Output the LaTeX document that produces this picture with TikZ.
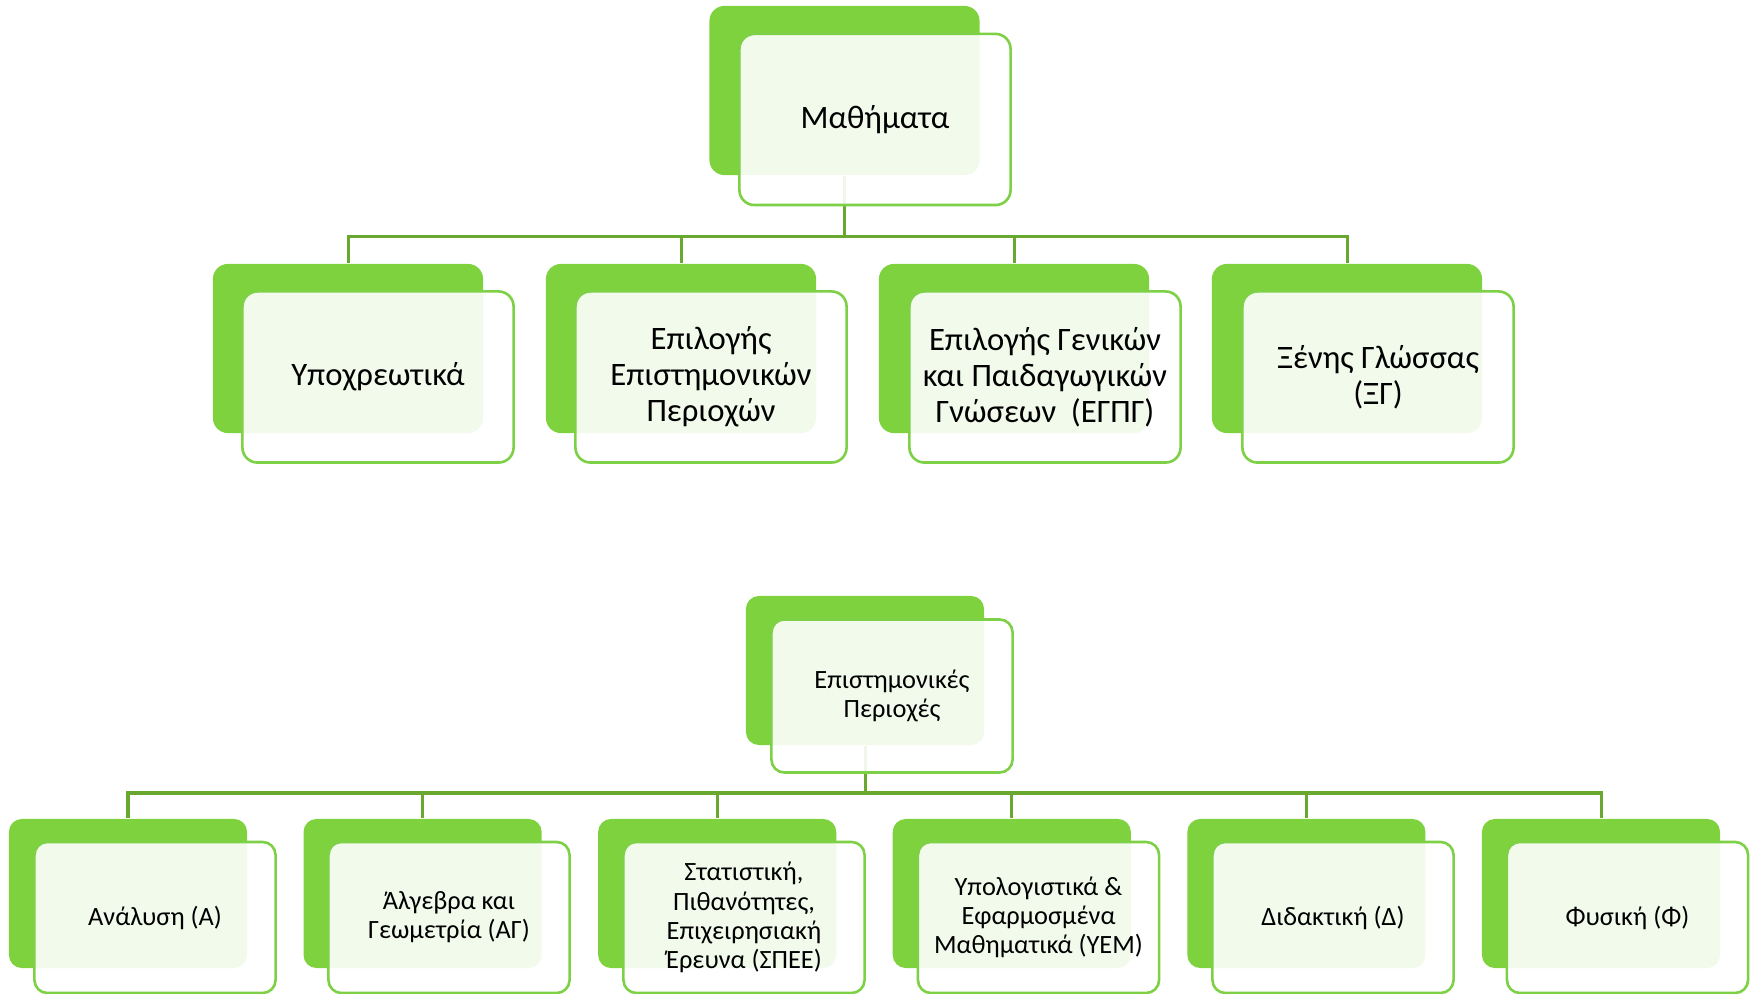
\documentclass[tikz,border=0pt]{standalone}
\usepackage{fontspec}
\setmainfont{Carlito}
\definecolor{gback}{RGB}{126,210,62}
\definecolor{gline}{RGB}{126,208,70}
\definecolor{gconn}{RGB}{104,168,46}
\tikzset{
  backbig/.style={fill=gback, draw=none, rounded corners=0.15cm, minimum width=2.70cm, minimum height=1.69cm, inner sep=0pt},
  frontbig/.style={fill=white, fill opacity=0.9, text opacity=1, draw=gline, line width=0.026cm, rounded corners=0.15cm, minimum width=2.71cm, minimum height=1.71cm, inner sep=0pt, align=center, font=\fontsize{9.3}{10.3}\selectfont},
  backsmall/.style={fill=gback, draw=none, rounded corners=0.13cm, minimum width=2.38cm, minimum height=1.49cm, inner sep=0pt},
  frontsmall/.style={fill=white, fill opacity=0.9, text opacity=1, draw=gline, line width=0.026cm, rounded corners=0.13cm, minimum width=2.41cm, minimum height=1.51cm, inner sep=0pt, align=center, font=\fontsize{7.5}{8.3}\selectfont},
  conn/.style={draw=gconn, line width=0.03cm}
}
\begin{document}
\begin{tikzpicture}[x=0.01cm,y=-0.01cm]
\useasboundingbox (0,0) rectangle (1750,994);
% ---------- top group: back boxes ----------
\node[backbig] (mb) at (844.5,90.5) {};
\node[backbig] (t1b) at (348,348.5) {};
\node[backbig] (t2b) at (681,348.5) {};
\node[backbig] (t3b) at (1014,348.5) {};
\node[backbig] (t4b) at (1347,348.5) {};
\coordinate (bartop) at (844.5,237);
\draw[conn] (mb.south) -- (bartop) -| (t1b.north);
\draw[conn] (bartop) -| (t2b.north);
\draw[conn] (bartop) -| (t3b.north);
\draw[conn] (bartop) -| (t4b.north);
% ---------- top group: front boxes ----------
\node[frontbig] (m) at (875,119.5) {Μαθήματα};
\node[frontbig] (t1) at (378,377) {Υποχρεωτικά};
\node[frontbig] (t2) at (711,377) {Επιλογής\\Επιστημονικών\\Περιοχών};
\node[frontbig] (t3) at (1045,377) {Επιλογής Γενικών\\και Παιδαγωγικών\\Γνώσεων~~(ΕΓΠΓ)};
\node[frontbig] (t4) at (1378,377) {Ξένης Γλώσσας\\(ΞΓ)};
% ---------- bottom group: back boxes ----------
\node[backsmall] (eb) at (865,670.5) {};
\node[backsmall] (b1b) at (128,893.5) {};
\node[backsmall] (b2b) at (422.6,893.5) {};
\node[backsmall] (b3b) at (717.2,893.5) {};
\node[backsmall] (b4b) at (1011.8,893.5) {};
\node[backsmall] (b5b) at (1306.4,893.5) {};
\node[backsmall] (b6b) at (1601,893.5) {};
\coordinate (barbot) at (865,793);
\draw[conn] (eb.south) -- (barbot) -| (b1b.north);
\draw[conn] (barbot) -| (b2b.north);
\draw[conn] (barbot) -| (b3b.north);
\draw[conn] (barbot) -| (b4b.north);
\draw[conn] (barbot) -| (b5b.north);
\draw[conn] (barbot) -| (b6b.north);
% ---------- bottom group: front boxes ----------
\node[frontsmall, minimum height=1.53cm] (e) at (892,696) {Επιστημονικές\\Περιοχές};
\node[frontsmall] (b1) at (155,917.5) {Ανάλυση (Α)};
\node[frontsmall] (b2) at (449,917.5) {Άλγεβρα και\\Γεωμετρία (ΑΓ)};
\node[frontsmall] (b3) at (744,917.5) {Στατιστική,\\Πιθανότητες,\\Επιχειρησιακή\\Έρευνα (ΣΠΕΕ)};
\node[frontsmall] (b4) at (1038.5,917.5) {Υπολογιστικά \&\\Εφαρμοσμένα\\Μαθηματικά (ΥΕΜ)};
\node[frontsmall] (b5) at (1333,917.5) {Διδακτική (Δ)};
\node[frontsmall] (b6) at (1627.5,917.5) {Φυσική (Φ)};
\end{tikzpicture}
\end{document}
